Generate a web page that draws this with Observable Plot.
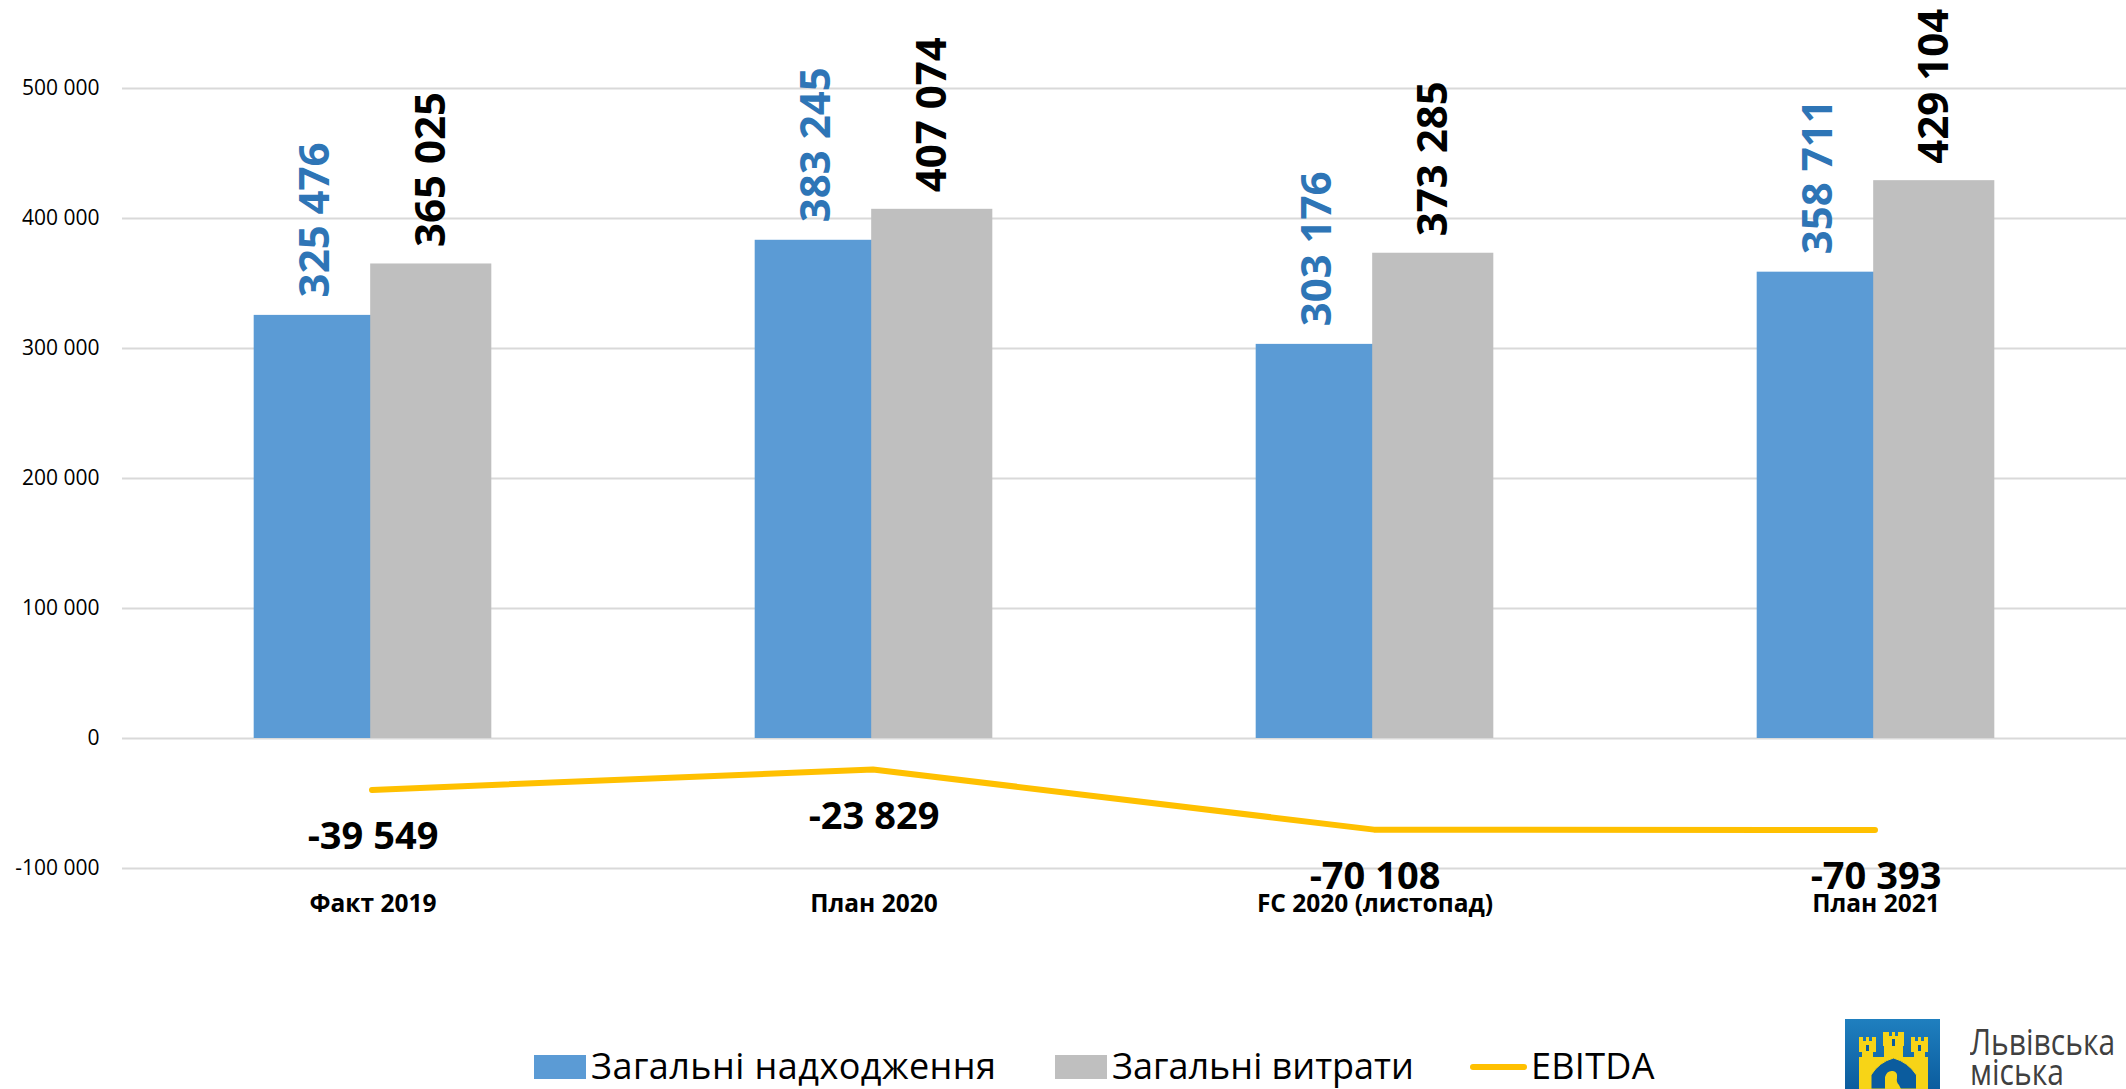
<!DOCTYPE html>
<html><head><meta charset="utf-8">
<script src="https://cdn.jsdelivr.net/npm/d3@7"></script>
<script src="https://cdn.jsdelivr.net/npm/@observablehq/plot@0.6"></script>
<style>
html,body{margin:0;padding:0;background:#fff;overflow:hidden}
#wrap{position:relative;width:2126px;height:1089px;overflow:hidden;font-family:"Open Sans",sans-serif}
#chart svg{display:block}
.leg{position:absolute;white-space:nowrap;font-size:36px;line-height:46px;top:1043px;color:#000}
.sw{position:absolute}
.logo{position:absolute;left:1845px;top:1019px}
.lt{position:absolute;left:1970px;color:#404040;font-size:30px;line-height:26px;white-space:nowrap;transform:scaleY(1.2);transform-origin:left bottom}
</style></head><body>
<div id="wrap"><div id="chart"></div>
<div class="sw" style="left:534px;top:1055px;width:52px;height:24px;background:#5b9bd5"></div>
<div class="leg" style="left:591px;letter-spacing:.45px">Загальні надходження</div>
<div class="sw" style="left:1055px;top:1055px;width:52px;height:24px;background:#bfbfbf"></div>
<div class="leg" style="left:1112px">Загальні витрати</div>
<div class="sw" style="left:1470px;top:1064px;width:57px;height:6px;border-radius:3px;background:#ffc000"></div>
<div class="leg" style="left:1531px;letter-spacing:.3px">EBITDA</div>
<svg class="logo" width="95" height="70" viewBox="0 0 95 70">
<defs><linearGradient id="g" x1="0" y1="0" x2="0" y2="1"><stop offset="0" stop-color="#1f7fbf"/><stop offset="1" stop-color="#0b5c9e"/></linearGradient></defs>
<rect width="95" height="70" fill="url(#g)"/>
<path d="M14 70V38h3v-5h-3V18h4v4h3v-4h3v4h3v-4h4v15h-3v5h11V27h-1V13h6v4h3v-4h3v4h3v-4h6v14h-1v11h11v-5h-3V18h4v4h3v-4h3v4h3v-4h4v15h-3v5h3v32z" fill="#f7d417"/>
<path d="M26 70V56q8-13 22.500-17q14.500 4 23 17v14z" fill="#0b5c9e" stroke="#f7d417" stroke-width="1"/>
<path d="M40 70V58q2-7 8-6q5 1 4 7q-1 4 2 7l2 4z" fill="#f7d417"/>
<g fill="#0b5c9e"><rect x="21" y="26" width="3" height="6"/><rect x="47" y="20" width="3" height="7"/><rect x="73" y="26" width="3" height="6"/></g>
</svg>
<div class="lt" style="top:1031px">Львівська</div>
<div class="lt" style="top:1061px">міська</div>
</div>
<script>
const categories = ["Факт 2019", "План 2020", "FC 2020 (листопад)", "План 2021"];
const income = [325476, 383245, 303176, 358711];
const costs = [365025, 407074, 373285, 429104];
const ebitda = [-39549, -23829, -70108, -70393];
const yTicks = [-100000, 0, 100000, 200000, 300000, 400000, 500000];
const fmt = d => d3.format(",")(d).replace(/,/g, " ").replace("−", "-");
const rows = v => categories.map((c, i) => ({c, v: v[i]}));
const plot = Plot.plot({
  width: 2126, height: 950,
  marginLeft: 122, marginRight: 0, marginTop: 88, marginBottom: 82,
  style: {fontFamily: '"Open Sans", sans-serif', background: "#fff", color: "#000"},
  x: {domain: categories, paddingInner: 0.5257, paddingOuter: 0.26285, align: 0.5, round: false, label: null},
  y: {domain: [-100000, 500000], label: null},
  marks: [
    Plot.ruleY(yTicks, {stroke: "#d9d9d9", strokeWidth: 2}),
    Plot.barY(rows(income), {x: "c", y: "v", fill: "#5b9bd5", insetRight: 120}),
    Plot.barY(rows(costs), {x: "c", y: "v", fill: "#bfbfbf", insetLeft: 116.5}),
    Plot.line(rows(ebitda), {x: "c", y: "v", stroke: "#ffc000", strokeWidth: 6, strokeLinecap: "round", strokeLinejoin: "miter", dx: -1}),
    Plot.text(rows(income), {x: "c", y: "v", text: d => fmt(d.v), rotate: -90, textAnchor: "start", lineAnchor: "middle", dx: -57, dy: -18, fill: "#2e75b6", fontSize: 42, fontWeight: 700}),
    Plot.text(rows(costs), {x: "c", y: "v", text: d => fmt(d.v), rotate: -90, textAnchor: "start", lineAnchor: "middle", dx: 59, dy: -17, fill: "#000", fontSize: 42, fontWeight: 700}),
    Plot.text(rows(ebitda), {x: "c", y: "v", text: d => fmt(d.v), dy: 47, fill: "#000", fontSize: 38, fontWeight: 700}),
    Plot.axisY({ticks: yTicks, tickFormat: fmt, tickSize: 0, tickPadding: 23, fontSize: 21, label: null, fill: "#000"}),
    Plot.axisX({tickSize: 0, tickPadding: 26, fontSize: 24.5, fontWeight: 700, label: null, fill: "#000"})
  ]
});
document.getElementById("chart").appendChild(plot);
</script>
</body></html>
